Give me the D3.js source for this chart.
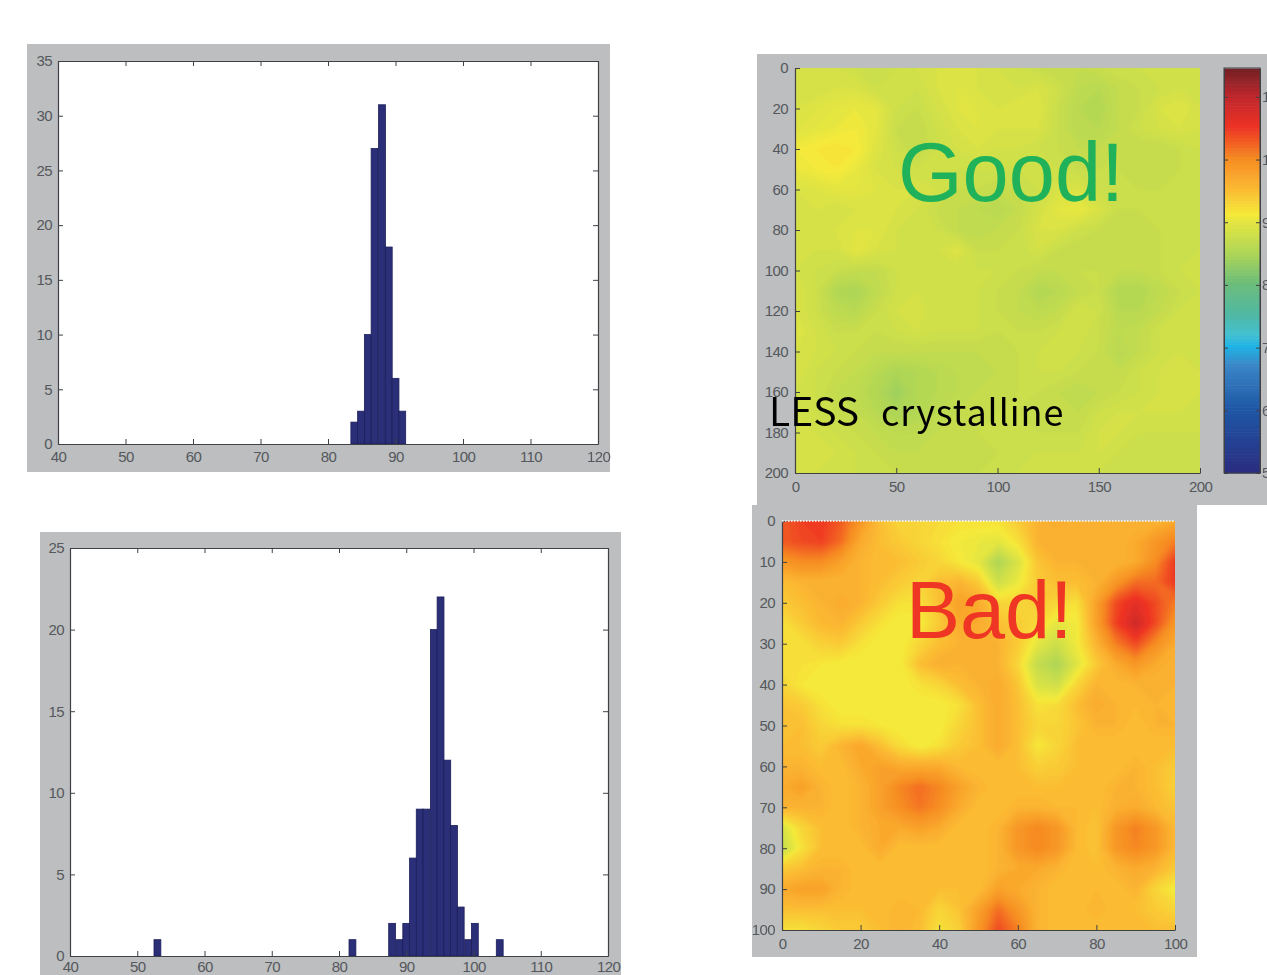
<!DOCTYPE html>
<html>
<head>
<meta charset="utf-8">
<script src="https://cdn.jsdelivr.net/npm/d3@7"></script>
<style>
  html, body { margin: 0; padding: 0; background: #fff; overflow: hidden; }
  svg { display: block; }
  .soft { filter: blur(0.55px); }
  .tick text { font-family: "Liberation Sans", sans-serif; font-size: 15px; fill: #55585c; letter-spacing: -0.6px; }
  .tick line, .domain { stroke: #3f4144; }
</style>
</head>
<body>
<svg width="1267" height="975"></svg>
<script>
// histogram 1 (upper left)
const hist1Bins = [83.9, 84.9, 85.9, 86.9, 88, 89, 90, 91];
const hist1Counts = [2, 3, 10, 27, 31, 18, 6, 3];
// histogram 2 (lower left)
const hist2Bins = [53, 82, 87.9, 89, 90, 91, 92, 93, 94.1, 95.1, 96.1, 97.1, 98.1, 99.2, 100.2, 103.9];
const hist2Counts = [1, 1, 2, 1, 2, 6, 9, 9, 20, 22, 12, 8, 3, 1, 2, 1];

// colour bar stops
const barValues = [50, 60, 67, 70, 72, 75, 80, 85, 90, 91, 95, 100, 105, 110, 114.6];
const barColors = ['#2a2d80', '#1e57a6', '#3a86c6', '#1fb4e6', '#45c0d0', '#4fb8a4', '#6cbd7a', '#b0d655',
  '#e6e640', '#f5ea3a', '#fbbb33', '#f68b22', '#ee3224', '#bd272d', '#6e1f22'];

// "Good!" map, rows y = 0..200 by 10, columns x = 0..200 by 10
const goodMap = [
  88.5,88.5,88.5,88,87.5,88,88.5,89,89.5,89,88.5,88,87.5,87,87,87.5,88,88,88,88,88,
  88.5,88.5,89,89,88,88,88,89,89.5,89,88.5,88.5,89,88,86.5,86,87,87.5,88,88.5,88,
  89,89.5,90,90.5,90,88,87.5,88.5,89.5,89.5,89,89.5,89.5,87.5,86,85.5,87,87.5,89,89.5,88.5,
  89.5,90,90.5,91,90,87.5,87,88,89,89.5,89,89,89,87.5,86,86,87,88,88.5,89,88.5,
  91,91.5,92,91.5,89.5,88,87,88,88.5,89,88.5,88.5,88,87.5,87,87,87.5,87,87,87.5,88,
  90.5,91,91.5,90.5,89,88.5,88,88,88,88,88,88,88,88,87.5,87.5,87.5,87,87,87.5,88,
  89,89.5,90,90,89.5,89,89,88.5,87.5,87.5,87,87.5,88,89,89,88,87.5,87.5,87.5,87.5,88,
  88.5,89,88.5,89,89,89,88.5,87.5,87,86.5,86,87,88.5,90,90.5,89,87.5,87.5,87.5,87.5,88,
  88.5,88.5,89,89.5,89.5,88.5,88,88,87,86.5,87,87.5,89,89,88,87.5,87,87,87.5,87.5,88,
  88.5,88.5,88.5,90,89,88.5,88,88.5,89.5,87.5,87.5,87.5,88.5,87.5,87,87,87,87,87.5,87.5,88,
  88.5,88,87.5,87,87,88,88,88,88,88,88,87.5,87,87,87.5,87.5,87,87,87.5,88,88,
  89,88,85.5,85,86.5,88,88.5,88,88,88,87.5,87,85.5,86,87,87.5,85.5,85.5,86.5,87.5,88,
  89,88,86.5,86,87.5,88.5,89,88,88,88,87.5,87,86.5,87,88.5,88,86,86,87,88,88,
  89.5,88.5,87.5,87.5,87.5,88,88.5,88,88,88,87.5,87.5,87.5,88,88.5,87.5,86.5,87,88,88,88,
  89,88.5,88,87.5,87,87,87,87,87,87,87,87.5,88,88,88,87.5,86,87,88,88.5,88,
  89,88,87.5,87,86,85,85.5,86,86.5,86.5,87,87.5,88,88,87.5,87,87,88,88.5,88.5,88.5,
  88.5,88,87,86.5,85.5,84,85.5,86,86.5,87,87,87.5,87.5,87,86.5,87,87.5,88,88.5,88.5,88.5,
  88.5,88,87.5,87,86,85,85.5,86.5,87,87,87.5,87.5,87,87,87,88,88.5,88.5,88.5,88.5,88,
  88.5,88.5,88,87.5,87,86.5,86.5,87,87.5,87.5,87.5,87.5,87.5,87.5,87.5,88.5,88.5,88,88,88,88,
  89,88.5,88.5,88,87.5,87,87,87,87,87,87.5,87.5,88,88,88,88.5,88,87.5,87.5,87.5,87.5,
  89,88.5,88,88,87.5,87.5,87.5,87,87,87.5,87.5,88,88,88,88,88,87.5,87.5,87.5,87.5,87.5
];

// "Bad!" map, rows y = 0..100 by 5, columns x = 0..100 by 5
const badMap = [
  103,104.5,105,103,99,95,93,93,92.5,92,92,92,94,96,97,96,96,96,96,96,97,
  103,104,104.5,102,97,95,94,93,92,91,90.5,90,92,96,96,96,96,96,97,99,101,
  99,100,100,98,96,95,95,94,93,91.5,90,85,89,94.5,96,96,96,96,97,100,105,
  95,96,96,96,96,95,94,93,95,96,94,88,90.5,94,95,95,96,99,102,102,105,
  94,95,96,97,96,94,92,92,95,98,97,93,93,94,93,92,98,104,106.5,104,101,
  92,94,95.5,96,94,92,91,91,94,97,97,95,94,92.5,90,91,98,104.5,108.5,104,99,
  92,92,93.5,94,92,91,91,93,95,96,96,96,94,90,88,91,96,101,104,100,97,
  92,92,91.5,91,91,91,91,95,96.5,96,96,96,93,87,85,89.5,94,97,99,97,96,
  93,91.5,91,91,91,91,91,92,93,95,96,97,94.5,89,88,93,96,95.5,96,96,96,
  94.5,94,92,91,91,91,91,91,91,92,95,97,95,92,92.5,95,97,96,95.5,96,95.5,
  94.5,95,93,92,92,91.5,91,91,91,93,95,97,95,93,93,94.5,96,96,95,96,96,
  95,95,94,96,97.5,95,92.5,91,92,94,95,97,95,91.5,93,95,95,95,95,95,95,
  96,96,95,95,97,98,97,97,97,95.5,95,95,95,93.5,94,95,95,95,96,95,94,
  97,98,96,95,96,98,100.5,102,100.5,98,96,95,95,95,95,95,95,96,96,95,93.5,
  96,96,96,95,96,98,100,101.5,100,97,95,95,96,96,95.5,95.5,95,96.5,97,95.5,94.5,
  89,93,95,95,96,97,97,98,97,95,95,96,99,100.5,99,95.5,94.5,99,101,99,95.5,
  87,92,95,95,95,97,95,95,95,95,95,96,99,100.5,99,95.5,94.5,99,100.5,99,95.5,
  94,95,96,96,95,95,95,95,95,95,95,96,97,97,96,95,95,96,97,96,94,
  97,98,98,96,95,95,95,95,95,95,95,98,97,96,95,95,95.5,95,96,93,91,
  95,95,95,95,95,95,96,95.5,93,94.5,98,102,99,96,95,95,96,95,95,94,93,
  92,92,93,94,94,95,96,95,92,93.5,99,104,101,96,95,95,95,95,95,95,95
];

const gridSize = 21;
const barTicks = [50, 60, 70, 80, 90, 100, 110];

const frameGray = '#bcbec0';
const color = d3.scaleLinear().domain(barValues).range(barColors);

const root = d3.select('svg').append('g').attr('class', 'soft');
const defs = d3.select('svg').append('defs');

const drawFrame = (x, y, w, h) => {
    root.append('rect').attr('x', x).attr('y', y).attr('width', w).attr('height', h).attr('fill', frameGray);
};

// inward ticks, like the matlab figures. opts.box adds the top and right sides
const drawAxes = (x, y, plot, opts) => {
    const g = root.append('g');
    g.append('g').attr('transform', `translate(0,${plot.bottom})`)
        .call(d3.axisBottom(x).tickValues(opts.xTicks).tickSizeOuter(0).tickSizeInner(-5).tickPadding(opts.xPad));
    g.append('g').attr('transform', `translate(${plot.x0},0)`)
        .call(d3.axisLeft(y).tickValues(opts.yTicks).tickSizeOuter(0).tickSizeInner(-5).tickPadding(opts.yPad));
    if (opts.box) {
        g.append('g').attr('transform', `translate(0,${plot.top})`)
            .call(d3.axisTop(x).tickValues(opts.xTicks).tickSizeOuter(0).tickSizeInner(-5).tickFormat(''));
        g.append('g').attr('transform', `translate(${plot.x1},0)`)
            .call(d3.axisRight(y).tickValues(opts.yTicks).tickSizeOuter(0).tickSizeInner(-5).tickFormat(''));
    }
    g.selectAll('.domain').attr('stroke-width', 1.2);
    return g;
};

const drawHist = (box, plot, yMax, bins, counts, yStep) => {
    drawFrame(box.x, box.y, box.w, box.h);
    root.append('rect').attr('x', plot.x0).attr('y', plot.top)
        .attr('width', plot.x1 - plot.x0).attr('height', plot.bottom - plot.top).attr('fill', '#fff');
    const x = d3.scaleLinear().domain([40, 120]).range([plot.x0, plot.x1]);
    const y = d3.scaleLinear().domain([0, yMax]).range([plot.bottom, plot.top]);
    const binWidth = 1.02;
    root.append('g').selectAll('rect')
        .data(bins.map((b, i) => ({ bin: b, count: counts[i] })))
        .enter().append('rect')
        .attr('x', d => x(d.bin - binWidth / 2))
        .attr('y', d => y(d.count))
        .attr('width', d => x(d.bin + binWidth / 2) - x(d.bin - binWidth / 2))
        .attr('height', d => y(0) - y(d.count))
        .attr('fill', '#2b2f78')
        .attr('stroke', '#1c1e5a')
        .attr('stroke-width', 0.8);
    drawAxes(x, y, plot, { xTicks: d3.range(40, 121, 10), yTicks: d3.range(0, yMax + 1, yStep), xPad: plot.xPad, yPad: 6, box: true });
};

const drawMap = (id, box, plot, maxVal, values, xTicks, yTicks) => {
    drawFrame(box.x, box.y, box.w, box.h);
    const x = d3.scaleLinear().domain([0, maxVal]).range([plot.x0, plot.x1]);
    const y = d3.scaleLinear().domain([0, maxVal]).range([plot.top, plot.bottom]);
    const step = maxVal / (gridSize - 1);

    defs.append('clipPath').attr('id', id)
        .append('rect').attr('x', plot.x0).attr('y', plot.top)
        .attr('width', plot.x1 - plot.x0).attr('height', plot.bottom - plot.top);
    defs.append('filter').attr('id', id + 'Blur')
        .attr('filterUnits', 'userSpaceOnUse')
        .attr('x', plot.x0 - 20).attr('y', plot.top - 20)
        .attr('width', plot.x1 - plot.x0 + 40).attr('height', plot.bottom - plot.top + 40)
        .append('feGaussianBlur').attr('stdDeviation', 1.6);

    // contour cells sit at i + 0.5, so shift back to data units
    const toPlot = d3.geoTransform({
        point: function (px, py) {
            this.stream.point(x((px - 0.5) * step), y((py - 0.5) * step));
        }
    });
    const path = d3.geoPath(toPlot);
    const contours = d3.contours().size([gridSize, gridSize]).thresholds(d3.range(80, 112, 0.5));

    root.append('g').attr('clip-path', `url(#${id})`)
        .append('g').attr('filter', `url(#${id}Blur)`)
        .selectAll('path')
        .data(contours(values))
        .enter().append('path')
        .attr('d', path)
        .attr('fill', d => color(d.value));

    drawAxes(x, y, plot, { xTicks: xTicks, yTicks: yTicks, xPad: 8, yPad: 7, box: false });
};

// left column
drawHist({ x: 27, y: 44, w: 583, h: 428 }, { x0: 58, x1: 598, bottom: 444, top: 61, xPad: 7 }, 35, hist1Bins, hist1Counts, 5);
drawHist({ x: 40, y: 532, w: 581, h: 443 }, { x0: 70, x1: 608, bottom: 956, top: 548, xPad: 5 }, 25, hist2Bins, hist2Counts, 5);

// upper right map and its colour bar
drawMap('goodClip', { x: 757, y: 54, w: 510, h: 451 }, { x0: 795, x1: 1200, top: 68, bottom: 473 }, 200, goodMap,
    d3.range(0, 201, 50), d3.range(0, 201, 20));

const barScale = d3.scaleLinear().domain([50, 114.6]).range([473, 68]);
root.append('g').selectAll('rect')
    .data(d3.range(50, 114.5, 0.5))
    .enter().append('rect')
    .attr('x', 1224)
    .attr('width', 36)
    .attr('y', d => barScale(d + 0.5))
    .attr('height', d => barScale(d) - barScale(d + 0.5) + 0.5)
    .attr('fill', d => color(d));
root.append('rect').attr('x', 1224).attr('y', 68).attr('width', 36).attr('height', 405)
    .attr('fill', 'none').attr('stroke', '#3f4144').attr('stroke-width', 1);
root.append('g').attr('transform', 'translate(1260,0)')
    .call(d3.axisRight(barScale).tickValues(barTicks).tickSizeOuter(0).tickSizeInner(-4).tickPadding(2));
root.append('g').attr('transform', 'translate(1224,0)')
    .call(d3.axisLeft(barScale).tickValues(barTicks).tickSizeOuter(0).tickSizeInner(-4).tickFormat(''));

// lower right map, it sits on top of the upper frame
drawMap('badClip', { x: 752, y: 505, w: 445, h: 452 }, { x0: 782, x1: 1175, top: 521, bottom: 930 }, 100, badMap,
    d3.range(0, 101, 20), d3.range(0, 101, 10));
root.append('line').attr('x1', 782).attr('x2', 1175).attr('y1', 521).attr('y2', 521)
    .attr('stroke', '#fff').attr('stroke-width', 1.5).attr('stroke-dasharray', '1.5 1.5');

// text laid over the maps
const note = (txt, px, py, size, fill, family) => root.append('text')
    .attr('x', px).attr('y', py).attr('fill', fill)
    .style('font-family', family).style('font-size', size + 'px')
    .text(txt);

note('Good!', 898, 201, 83, '#1fb25a', '"Liberation Sans", sans-serif');
note('Bad!', 906, 638, 81, '#ef3524', '"Liberation Sans", sans-serif');

// LESS is a size up from crystalline in the original
const less = note('LESS ', 769, 426, 39, '#000', '"Noto Sans CJK JP", "Noto Sans", sans-serif');
less.append('tspan').attr('x', 881).style('font-size', '36px').style('letter-spacing', '0.9px').text('crystalline');
</script>
</body>
</html>
